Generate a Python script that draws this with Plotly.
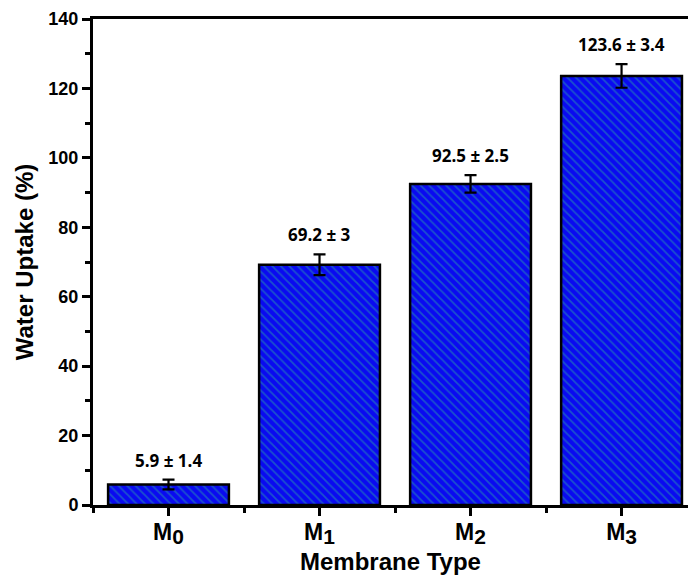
import plotly.graph_objects as go

categories = ["M", "M", "M", "M"]
subscripts = ["0", "1", "2", "3"]
uptake = [5.9, 69.2, 92.5, 123.6]
errors = [1.4, 3.0, 2.5, 3.4]
labels = ["5.9 ± 1.4", "69.2 ± 3", "92.5 ± 2.5", "123.6 ± 3.4"]
xpos = list(range(len(categories)))

fig = go.Figure()
fig.add_trace(go.Bar(
    x=xpos, y=uptake, width=0.8,
    marker=dict(color="#0a0af0", line=dict(color="black", width=2.5),
                pattern=dict(shape="\\", fgcolor="#2a9aa8", bgcolor="#0a0af0",
                             size=6, solidity=0.3)),
    error_y=dict(type="data", array=errors, color="black", thickness=2.2, width=6),
    showlegend=False,
))

for x, v, e, t in zip(xpos, uptake, errors, labels):
    fig.add_annotation(x=x, y=v + e, text=t, showarrow=False,
                       yanchor="bottom", yshift=6,
                       font=dict(family="Open Sans", size=17, color="black", weight="bold"))

fig.update_layout(
    width=688, height=583,
    margin=dict(l=93, r=0, t=19, b=78),
    plot_bgcolor="white", paper_bgcolor="white",
    font=dict(family="Liberation Sans", color="black"),
    bargap=0.2,
)
fig.update_xaxes(
    range=[-0.5, 3.44], tickmode="array", tickvals=xpos,
    ticktext=[f"{c}<sub><span style='font-size:21px'>{s}</span></sub>" for c, s in zip(categories, subscripts)],
    tickfont=dict(family="Liberation Sans", size=23, weight="bold"),
    ticklabelstandoff=-4,
    ticks="outside", ticklen=8, tickwidth=2.5, tickcolor="black",
    minor=dict(tickmode="array", tickvals=[-0.5, 0.5, 1.5, 2.5, 3.5],
               ticks="outside", ticklen=5, tickwidth=2.5, tickcolor="black"),
    showline=True, linewidth=3, linecolor="black", mirror=True,
    showgrid=False, zeroline=False,
    title=dict(text="Membrane Type", font=dict(family="Liberation Sans", size=24, weight="bold"), standoff=5),
)
fig.update_yaxes(
    range=[0, 140], tickvals=[0, 20, 40, 60, 80, 100, 120, 140],
    tickfont=dict(family="Liberation Sans", size=18, weight="bold"),
    ticks="outside", ticklen=8, tickwidth=2.5, tickcolor="black",
    minor=dict(dtick=10, tick0=0, ticks="outside", ticklen=5, tickwidth=2.5, tickcolor="black"),
    showline=True, linewidth=3, linecolor="black",
    showgrid=False, zeroline=False,
    title=dict(text="Water Uptake (%)", font=dict(family="Liberation Sans", size=24, weight="bold"), standoff=8),
)

fig.write_html("out.html")
